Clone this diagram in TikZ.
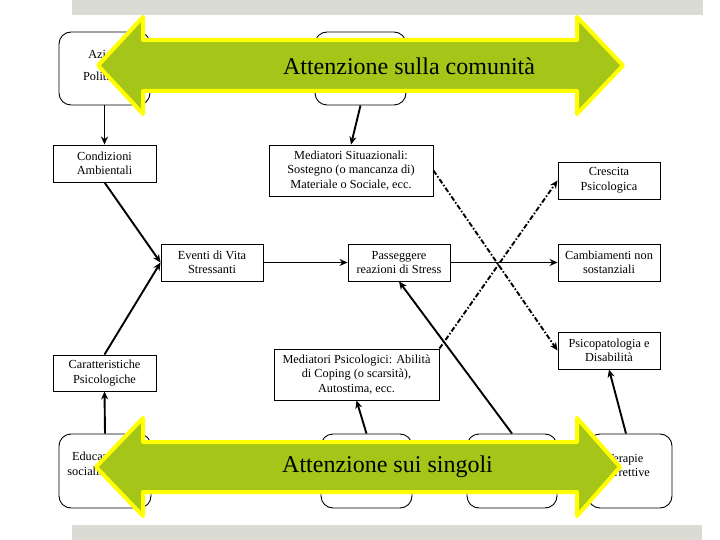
\documentclass[tikz,border=0pt]{standalone}
\usepackage{fontspec}
\setmainfont{Liberation Serif}
\usetikzlibrary{arrows.meta}
\definecolor{barg}{RGB}{218,219,211}
\definecolor{agreen}{RGB}{165,197,25}
\definecolor{ayellow}{RGB}{255,255,0}
\tikzset{
  sqbox/.style={draw, line width=0.9pt, fill=white, inner sep=0pt, align=center,
    font=\fontsize{12.3}{14.5}\selectfont},
  rbox/.style={draw, line width=0.9pt, rounded corners=12pt, inner sep=0pt},
  btext/.style={inner sep=0pt, align=center, font=\fontsize{12.3}{14.5}\selectfont},
  conn/.style={line width=1.9pt, -{Stealth[length=8pt,width=7pt]}},
  dconn/.style={conn, dash pattern=on 5pt off 2pt on 1.5pt off 2pt},
  bigarrow/.style={fill=agreen, draw=ayellow, line width=4pt, line join=round},
  bigtext/.style={inner sep=0pt, font=\fontsize{24}{28}\selectfont}
}
\begin{document}
\begin{tikzpicture}[x=1pt,y=-1pt]
\useasboundingbox (0,0) rectangle (720,540);
% gray bars
\fill[barg] (72,0) rectangle (703,15);
\fill[barg] (72,525) rectangle (702,540);

% rounded boxes
\node[rbox, minimum width=91pt, minimum height=73pt] (azioni) at (104.5,68.5) {};
\node[btext, font=\fontsize{12.3}{22}\selectfont] (azt) at (105,65) {Azioni\\Politiche};
\node[rbox, minimum width=91pt, minimum height=73pt] (topmid) at (360.5,68.5) {};
\node[rbox, minimum width=92pt, minimum height=74pt] (educ) at (105,471) {};
\node[btext] (edt) at (105,464) {Educazione e\\socializzazione};
\node[rbox, minimum width=91pt, minimum height=74pt] (botmid) at (366.5,471) {};
\node[rbox, minimum width=90pt, minimum height=74pt] (bot3) at (512,471) {};
\node[rbox, minimum width=84pt, minimum height=74pt] (terapie) at (630,471) {};
\node[btext] (tert) at (625,465.5) {Terapie\\Correttive};

% square boxes
\node[sqbox, minimum width=103pt, minimum height=37pt] (cond) at (104.5,163.5) {Condizioni\\Ambientali};
\node[sqbox, minimum width=164pt, minimum height=51pt] (medsit) at (351,170.5) {Mediatori Situazionali:\\Sostegno (o mancanza di)\\Materiale o Sociale, ecc.};
\node[sqbox, minimum width=102pt, minimum height=37pt] (crescita) at (609,180.5) {Crescita\\Psicologica};
\node[sqbox, minimum width=102pt, minimum height=37pt] (eventi) at (212,262.5) {Eventi di Vita\\Stressanti};
\node[sqbox, minimum width=102pt, minimum height=37pt] (pass) at (399,262.5) {Passeggere\\reazioni di Stress};
\node[sqbox, minimum width=102pt, minimum height=37pt] (camb) at (609,262.5) {Cambiamenti non\\sostanziali};
\node[sqbox, minimum width=103pt, minimum height=36pt] (caratt) at (104.5,373) {Caratteristiche\\Psicologiche};
\node[sqbox, minimum width=165pt, minimum height=51pt] (medpsi) at (356.5,374.5) {Mediatori Psicologici: Abilità\\di Coping (o scarsità),\\Autostima, ecc.};
\node[sqbox, minimum width=102pt, minimum height=37pt] (psicop) at (609,350.5) {Psicopatologia e\\Disabilità};

% connectors
\draw[conn] (azioni.south) -- (cond.north);
\draw[conn] (topmid.south) -- (medsit.north);
\draw[conn] (cond.south) -- (eventi.west);
\draw[conn] (caratt.north) -- (eventi.west);
\draw[conn] (eventi.east) -- (pass.west);
\draw[conn] (pass.east) -- (camb.west);
\draw[dconn] (medsit.east) -- (psicop.west);
\draw[dconn] (medpsi.north east) -- (crescita.west);
\draw[conn] (bot3.north) -- (pass.south);
\draw[conn] (botmid.north) -- (medpsi.south);
\draw[conn] (educ.north) -- (caratt.south);
\draw[conn] ([xshift=-4pt]terapie.north) -- (psicop.south);

% big arrows
\draw[bigarrow] (98,65.5) -- (143,17) -- (143,40) -- (577,40) -- (577,17) -- (623,65.5)
  -- (577,114) -- (577,91) -- (143,91) -- (143,114) -- cycle;
\node[bigtext] (topt) at (409,66) {Attenzione sulla comunità};
\draw[bigarrow] (96,467) -- (143,418) -- (143,442) -- (577,442) -- (577,418) -- (620,467)
  -- (577,516) -- (577,492) -- (143,492) -- (143,516) -- cycle;
\node[bigtext] (bott) at (387.5,467) {Attenzione sui singoli};
\end{tikzpicture}
\end{document}
